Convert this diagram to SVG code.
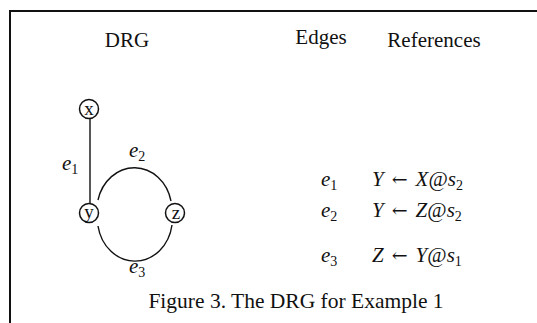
<svg xmlns="http://www.w3.org/2000/svg" width="537" height="323" viewBox="0 0 537 323">
<style>
text{font-family:"Liberation Serif","Times New Roman",serif;fill:#111}
.h{font-size:21px;text-anchor:middle}
.m{font-size:21px;font-style:italic}
.r{font-style:normal}
.ar{font-style:normal;font-family:"DejaVu Serif",serif;font-size:19px}
.sub{font-size:14px;font-style:normal}
.nl{font-size:19px;text-anchor:middle}
.node{fill:none;stroke:#111;stroke-width:1.5}
.edge{fill:none;stroke:#111;stroke-width:1.4}
</style>
<path d="M10 323 V11 H537" fill="none" stroke="#111" stroke-width="2"/>
<text class="h" x="127" y="47">DRG</text>
<text class="h" x="321" y="44">Edges</text>
<text class="h" x="434" y="47">References</text>
<g id="connectors">
<line class="edge" x1="90" y1="119" x2="90" y2="204"/>
<path class="edge" d="M98 200 A37.5 42.5 0 0 1 171 201"/>
<path class="edge" d="M98 226 A37.5 42.5 0 0 0 172 225"/>
<text class="m" x="62" y="170">e<tspan class="sub" dy="4">1</tspan></text>
<text class="m" x="129" y="157">e<tspan class="sub" dy="4">2</tspan></text>
<text class="m" x="129" y="273">e<tspan class="sub" dy="4">3</tspan></text>
</g>
<g id="node-x"><circle class="node" cx="89" cy="109" r="9.5"/><text class="nl" x="89" y="115">x</text></g>
<g id="node-y"><circle class="node" cx="89" cy="213" r="9.5"/><text class="nl" x="89" y="218">y</text></g>
<g id="node-z"><circle class="node" cx="175" cy="213" r="9.5"/><text class="nl" x="176" y="219">z</text></g>
<g id="table">
<text class="m" x="321" y="186">e<tspan class="sub" dy="4">1</tspan></text>
<text class="m" x="321" y="217">e<tspan class="sub" dy="4">2</tspan></text>
<text class="m" x="321" y="262">e<tspan class="sub" dy="4">3</tspan></text>
<text class="m" x="372" y="186">Y<tspan class="ar" dx="8">←</tspan><tspan dx="8">X</tspan><tspan class="r">@</tspan>s<tspan class="sub" dy="4">2</tspan></text>
<text class="m" x="372" y="217">Y<tspan class="ar" dx="8">←</tspan><tspan dx="8">Z</tspan><tspan class="r">@</tspan>s<tspan class="sub" dy="4">2</tspan></text>
<text class="m" x="372" y="262">Z<tspan class="ar" dx="8">←</tspan><tspan dx="8">Y</tspan><tspan class="r">@</tspan>s<tspan class="sub" dy="4">1</tspan></text>
</g>
<text x="296" y="308" style="font-size:21.5px;text-anchor:middle">Figure 3. The DRG for Example 1</text>
</svg>
